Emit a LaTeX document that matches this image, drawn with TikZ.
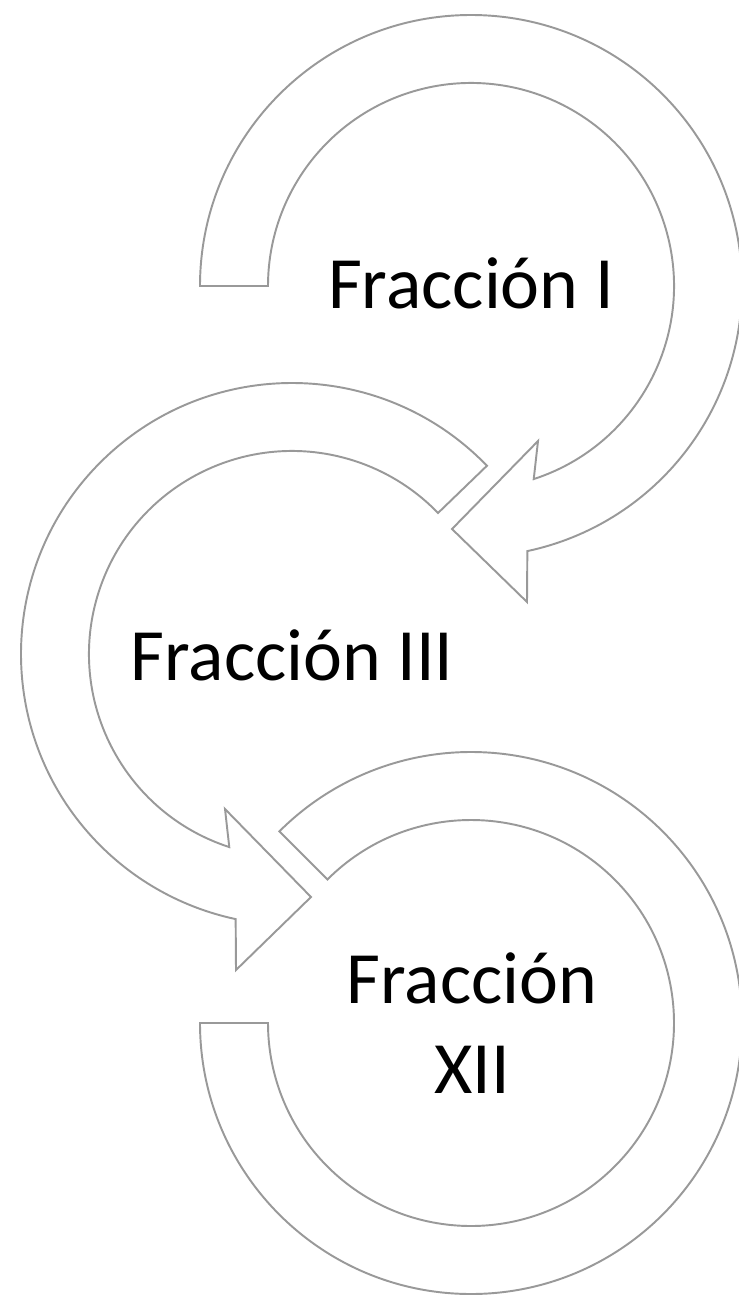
\documentclass[tikz,border=0pt]{standalone}
\usepackage{fontspec}
\setmainfont{Carlito}

\begin{document}
\begin{tikzpicture}[x=0.02cm,y=0.02cm,
	ring/.style={draw=gray!80,line width=1.1pt,fill=white,line join=miter},
	lbl/.style={font=\fontsize{42}{51}\selectfont,text=black,inner sep=0,outer sep=0,align=center}]
	\useasboundingbox (0,0) rectangle (739,-1298);
	\coordinate (c1) at (471,-286);
	\coordinate (c2) at (292,-654);
	\coordinate (c3) at (471,-1023);
	\begin{scope}[shift={(c1)}]
		\draw[ring] (180:271) arc[start angle=180,end angle=-78,radius=271] -- (56,-316) -- (-19,-243) -- (67,-155) -- (-72:203) arc[start angle=-72,end angle=180,radius=203] -- cycle;
	\end{scope}
	\begin{scope}[shift={(c2)}]
		\draw[ring] (44:271) arc[start angle=44,end angle=258,radius=271] -- (-56,-316) -- (19,-243) -- (-67,-155) -- (252:203) arc[start angle=252,end angle=44,radius=203] -- cycle;
	\end{scope}
	\begin{scope}[shift={(c3)}]
		\draw[ring] (180:271) arc[start angle=180,end angle=495,radius=271] -- (495:203) arc[start angle=495,end angle=180,radius=203] -- cycle;
	\end{scope}
	\node[lbl,anchor=base] (1) at (471,-308) {Fracción I};
	\node[lbl,anchor=base] (3) at (292,-680) {Fracción III};
	\node[lbl,anchor=base] (12) at (472,-1093) {Fracción\\XII};
\end{tikzpicture}
\end{document}
